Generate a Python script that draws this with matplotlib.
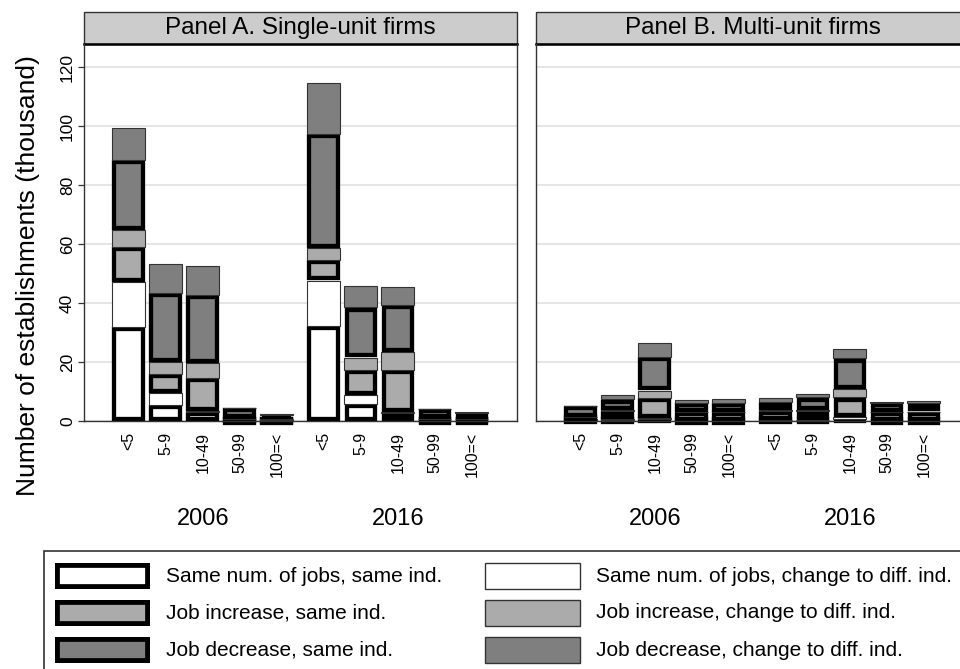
import numpy as np
import matplotlib
matplotlib.use("Agg")
import matplotlib.pyplot as plt
from matplotlib.patches import Rectangle
from matplotlib.lines import Line2D

plt.rcParams['font.family'] = ['Liberation Sans', 'DejaVu Sans']

sizes = ["<5", "5-9", "10-49", "50-99", "100=<"]
years = ["2006", "2016"]
panels = ["Panel A. Single-unit firms", "Panel B. Multi-unit firms"]

labels = ["Same num. of jobs, same ind.", "Same num. of jobs, change to diff. ind.",
          "Job increase, same ind.", "Job increase, change to diff. ind.",
          "Job decrease, same ind.", "Job decrease, change to diff. ind."]

# thousand establishments, 2006 sizes then 2016 sizes
# Panel A: single-unit firms
single_same_same = [32.0, 5.4, 3.0, 0.05, 0.05, 32.2, 5.8, 2.8, 0.05, 0.05]
single_same_diff = [15.0, 4.0, 0.3, 0.05, 0.05, 15.4, 3.0, 0.3, 0.05, 0.05]
single_inc_same = [12.0, 6.7, 11.2, 0.6, 0.4, 7.0, 8.5, 14.2, 0.6, 0.5]
single_inc_diff = [5.7, 4.0, 5.1, 0.1, 0.1, 3.9, 4.2, 6.2, 0.1, 0.1]
single_dec_same = [23.8, 23.3, 23.1, 3.5, 1.5, 38.8, 17.0, 15.8, 3.2, 2.1]
single_dec_diff = [10.8, 9.8, 9.9, 0.2, 0.15, 17.4, 7.3, 6.1, 0.2, 0.2]
# Panel B: multi-unit firms
multi_same_same = [0.4, 0.4, 0.8, 0.05, 0.05, 0.3, 0.3, 0.8, 0.05, 0.05]
multi_same_diff = [0.2, 0.3, 0.3, 0.05, 0.05, 0.1, 0.2, 0.6, 0.05, 0.05]
multi_inc_same = [0.6, 2.7, 6.7, 2.9, 2.9, 2.9, 2.9, 6.6, 2.9, 2.9]
multi_inc_diff = [0.1, 0.3, 2.5, 0.1, 0.1, 0.3, 0.2, 2.7, 0.1, 0.2]
multi_dec_same = [3.7, 3.6, 11.5, 2.9, 2.9, 2.9, 4.4, 10.5, 2.9, 2.9]
multi_dec_diff = [0.2, 1.6, 4.5, 1.1, 1.5, 1.2, 1.3, 3.3, 0.6, 0.7]

fills = ["white", "white", "#ababab", "#ababab", "#7f7f7f", "#7f7f7f"]
thick = [True, False, True, False, True, False]

W, H = 960, 669
fig = plt.figure(figsize=(W / 100, H / 100), dpi=100)

xpos = np.concatenate([np.arange(5), np.arange(5) + 5.27])
xlim = (-1.21, 10.49)
ymax = 127.8
ax_w, ax_h = 433, 377
bar_w = 0.89

# thick outline (px), drawn Stata-like: box shrunk by half the line, then stroked
lw_px = 4.3
dx = (lw_px / 2) / (ax_w / (xlim[1] - xlim[0]))
dy = (lw_px / 2) / (ax_h / ymax)

panel_data = [
    [single_same_same, single_same_diff, single_inc_same, single_inc_diff, single_dec_same, single_dec_diff],
    [multi_same_same, multi_same_diff, multi_inc_same, multi_inc_diff, multi_dec_same, multi_dec_diff],
]

for p, left in enumerate([84, 536]):
    ax = fig.add_axes([left / W, 1 - 421 / H, ax_w / W, ax_h / H])
    bottom = np.zeros(10)
    for i, vals in enumerate(panel_data[p]):
        vals = np.array(vals)
        if thick[i]:
            ax.bar(xpos, vals - 2 * dy, width=bar_w - 2 * dx, bottom=bottom + dy,
                   color=fills[i], edgecolor="black", linewidth=lw_px * 0.72,
                   joinstyle="miter", zorder=2, clip_on=False)
        else:
            ax.bar(xpos, vals, width=bar_w, bottom=bottom, color=fills[i],
                   edgecolor="#333333", linewidth=0.8, zorder=2, clip_on=False)
        bottom = bottom + vals

    ax.set_xlim(*xlim)
    ax.set_ylim(0, ymax)
    ax.set_yticks(np.arange(0, 121, 20))
    ax.yaxis.grid(True, color="#dedede", lw=1.1)
    ax.set_axisbelow(True)
    ax.set_xticks(xpos)
    ax.set_xticklabels(sizes * 2, rotation=90, fontsize=11.5)
    ax.tick_params(axis="x", length=0, pad=8)
    if p == 0:
        ax.tick_params(axis="y", length=4.5, width=0.9, labelsize=12.5, pad=2, color="#333333")
        for t in ax.get_yticklabels():
            t.set_rotation(90)
            t.set_va("center")
    else:
        ax.tick_params(axis="y", left=False, labelleft=False)
    for s in ["left", "right", "bottom"]:
        ax.spines[s].set_color("#333333")
        ax.spines[s].set_linewidth(1.0)
    ax.spines["top"].set_visible(False)

    # year labels under each group
    for g, yr in enumerate(years):
        ax.text(xpos[g * 5 + 2], -0.26, yr, transform=ax.get_xaxis_transform(),
                ha="center", va="center", fontsize=17)

    # panel header strip
    sh = 31.7 / ax_h
    ax.add_patch(Rectangle((0, 1), 1, sh, transform=ax.transAxes, facecolor="#cccccc",
                           edgecolor="#333333", lw=1.0, clip_on=False))
    ax.add_line(Line2D([0, 1], [1, 1], transform=ax.transAxes, color="black", lw=1.8, clip_on=False))
    ax.text(0.5, 1 + sh / 2, panels[p], transform=ax.transAxes, ha="center", va="center", fontsize=17.5)

fig.text(28 / W, 1 - 276 / H, "Number of establishments (thousand)", rotation=90,
         ha="center", va="center", fontsize=19)

# legend box, cut by the figure edge like the original
fig.add_artist(Rectangle((44 / W, 1 - 700 / H), 940 / W, 149 / H, transform=fig.transFigure,
                         facecolor="white", edgecolor="#333333", lw=1.2))
rows = [576, 613, 650]
for i, lab in enumerate(labels):
    col = i % 2
    row = i // 2
    kx = [55, 485][col]
    ky = rows[row]
    key = Rectangle((kx / W, 1 - (ky + 13) / H), 95 / W, 26 / H, transform=fig.transFigure,
                    facecolor=fills[i])
    fig.add_artist(key)
    if thick[i]:
        key.set_edgecolor("black")
        key.set_linewidth(7.0)
        key.set_clip_path(key)
    else:
        key.set_edgecolor("#333333")
        key.set_linewidth(1.0)
    fig.text((kx + 111) / W, 1 - ky / H, lab, ha="left", va="center", fontsize=15)

fig.savefig("out.png", dpi=100)
